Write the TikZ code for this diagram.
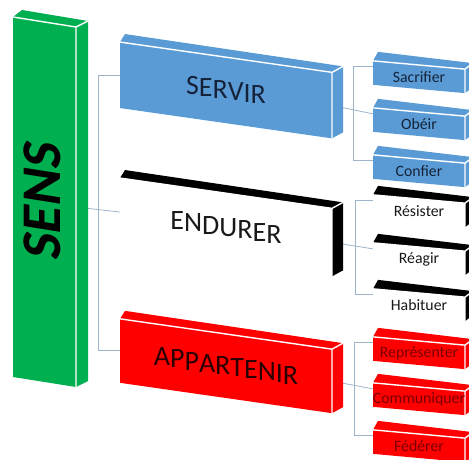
\documentclass[tikz,border=0pt]{standalone}
\usepackage{fontspec}
\setmainfont{Carlito}
\newfontfamily\sensslant{Carlito}[FakeSlant=0.159]
\usetikzlibrary{calc}
\definecolor{sgreen}{HTML}{00B050}
\definecolor{sblue}{HTML}{5B9BD5}
\definecolor{sred}{HTML}{FF0000}
\definecolor{conn}{HTML}{9DB4CB}
\definecolor{bluetxt}{HTML}{14233A}
\definecolor{redtxt}{HTML}{7A0000}
\definecolor{darkred}{HTML}{2A0000}
\pgfdeclarelayer{bgzero}
\pgfdeclarelayer{bgone}
\pgfsetlayers{bgzero,bgone,main}
% #1 node name, #2 colour of top/side, #3 depth at left, #4 depth at right
\newcommand\cubesides[4]{%
  \fill[#2] (#1.north west) -- ++(#3) -- ($(#1.north east)+(#4)$) -- (#1.north east) -- cycle;
  \fill[#2] (#1.north east) -- ($(#1.north east)+(#4)$) -- ($(#1.south east)+(#4)$) -- (#1.south east) -- cycle;
  \draw[white, line width=1.4pt, line join=round] (#1.north west) -- (#1.north east) -- (#1.south east) (#1.north east) -- ($(#1.north east)+(#4)$);
}
% #1 name, #2 position, #3 slant, #4 style
\newcommand\slantface[4]{%
  \begin{scope}[shift={(#2)}, yslant=#3, transform shape]
    \node[#4] (#1) at (0,0) {};
  \end{scope}}
% letters set on a baseline that slopes down by #1 per unit of width
\makeatletter
\newdimen\shx
\newcommand\sheartext[2]{%
  \hbox{\shx=0pt\relax
  \@tfor\sh@c:=#2\do{%
    \setbox\z@=\hbox{\sh@c}%
    \dimen@=\shx \advance\dimen@ by 0.5\wd\z@
    \advance\shx by \wd\z@
    \raise-#1\dimen@\box\z@}}}
\makeatother
\begin{document}
\begin{tikzpicture}[x=1pt,y=-1pt,
  sensbox/.style={inner sep=0pt, outer sep=0pt, minimum width=63pt, minimum height=360pt, fill=sgreen},
  senstext/.style={inner sep=0pt, rotate=90, font=\sensslant\bfseries\fontsize{56}{60}\selectfont, text=black},
  bigbox/.style={inner sep=0pt, outer sep=0pt, minimum width=212pt, minimum height=#1},
  smallbox/.style={inner sep=0pt, outer sep=0pt, minimum width=92pt, minimum height=24pt},
  bigtext/.style={inner sep=0pt, font=\fontsize{28}{30}\selectfont},
  smalltext/.style={inner sep=0pt, font=\fontsize{15.8}{18}\selectfont},
  link/.style={draw=conn, line width=0.8pt}
]
\useasboundingbox (0,0) rectangle (469,459);
\begin{pgfonlayer}{bgzero}
  \fill[white] (0,0) rectangle (469,459);
\end{pgfonlayer}

% SENS
\slantface{sens}{44.5,202}{-0.159}{sensbox}
\cubesides{sens}{sgreen}{9,-7}{12,-6}
\node[senstext] (senslabel) at (42.5,203) {SENS};

% big boxes
\slantface{servir}{226,90.2}{-0.143}{bigbox=66pt, fill=sblue}
\cubesides{servir}{sblue}{5,-8}{11,-6}
\node[bigtext, text=bluetxt] (servirtext) at (servir.center) {\sheartext{0.143}{SERVIR}};
\slantface{endurer}{226,227.2}{-0.143}{bigbox=68pt, fill=white}
\cubesides{endurer}{black}{5,-8}{11,-6}
\node[bigtext, text=black!90] (endurertext) at (endurer.center) {\sheartext{0.143}{ENDURER}};
\slantface{appartenir}{226,366}{-0.143}{bigbox=64pt, fill=sred}
\cubesides{appartenir}{sred}{5,-8}{11,-6}
\node[bigtext, text=darkred] (appartenirtext) at (appartenir.center) {\sheartext{0.143}{APPARTENIR}};

% small boxes
\foreach \n/\y/\c/\sc/\tc/\t in {
  sacrifier/77/sblue/sblue/bluetxt/Sacrifier,
  obeir/124/sblue/sblue/bluetxt/Obéir,
  confier/171/sblue/sblue/bluetxt/Confier,
  resister/211/white/black/black!90/Résister,
  reagir/259/white/black/black!90/Réagir,
  habituer/305/white/black/black!90/Habituer,
  representer/353/sred/sred/redtxt/Représenter,
  communiquer/399/sred/sred/redtxt/Communiquer,
  federer/446/sred/sred/redtxt/Fédérer}{
  \slantface{\n}{419,\y}{-0.09}{smallbox, fill=\c}
  \cubesides{\n}{\sc}{5,-9}{8,-6}
  \node[smalltext, text=\tc] (\n text) at (\n.center) {\sheartext{0.09}{\t}};
}

% connectors
\coordinate (k0) at (98,0);
\coordinate (k1) at (353,0);
\coordinate (k2) at (355,0);
\coordinate (k3) at (354,0);
\foreach \n in {sacrifier,obeir,confier,resister,reagir,habituer,representer,communiquer,federer}{
  \coordinate (\n L) at ($(\n.north west)!0.25!(\n.south west)$);
}
\begin{pgfonlayer}{bgone}
  \draw[link] (servir.west) -- (servir.west -| k0) -- (appartenir.west -| k0) -- (appartenir.west);
  \draw[link] (sens.east) -- (endurer.west);
  \draw[link] (sacrifierL) -- (sacrifierL -| k1) -- (confierL -| k1) -- (confierL);
  \draw[link] (servir.east) -- (obeirL);
  \draw[link] (resisterL) -- (resisterL -| k2) -- (habituerL -| k2) -- (habituerL);
  \draw[link] (endurer.east) -- (reagirL);
  \draw[link] (representerL) -- (representerL -| k3) -- (federerL -| k3) -- (federerL);
  \draw[link] (appartenir.east) -- (communiquerL);
\end{pgfonlayer}
\end{tikzpicture}
\end{document}
